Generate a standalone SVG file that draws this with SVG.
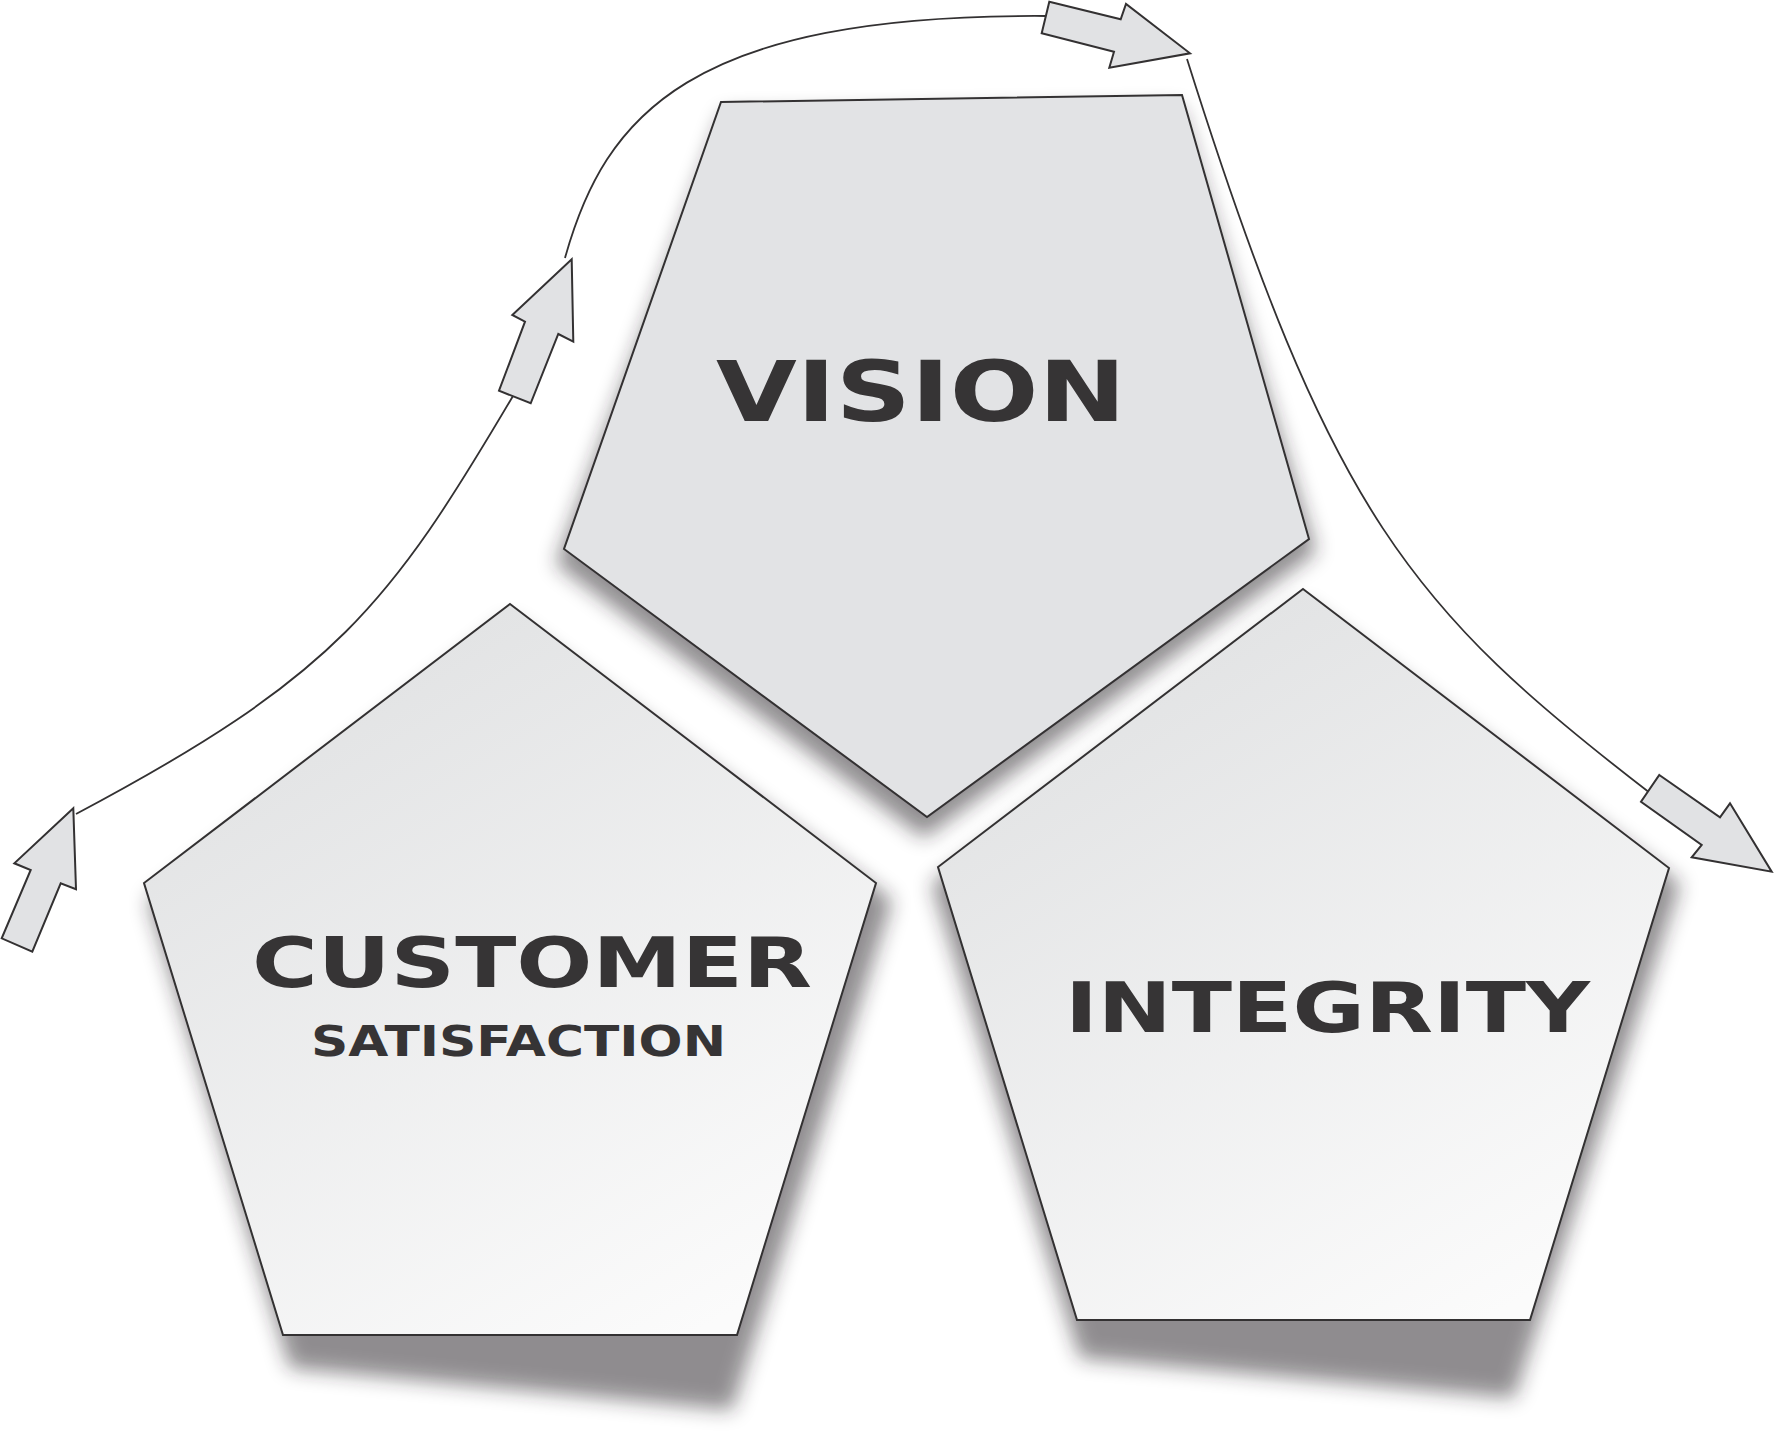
<svg xmlns="http://www.w3.org/2000/svg" width="1774" height="1435" viewBox="0 0 1774 1435">
  <defs>
    <filter id="blur" x="-20%" y="-20%" width="140%" height="140%">
      <feGaussianBlur stdDeviation="10"/>
    </filter>
    <linearGradient id="lightGrad" x1="0.25" y1="0.15" x2="0.75" y2="1">
      <stop offset="0" stop-color="#e3e4e5"/>
      <stop offset="1" stop-color="#fbfbfb"/>
    </linearGradient>
    <style>
      .shadow { fill: #231f20; opacity: 0.5; filter: url(#blur); }
      .pent { stroke: #333132; stroke-width: 2; stroke-linejoin: miter; }
      .label { font-family: "DejaVu Sans", "Liberation Sans", sans-serif; font-weight: bold; fill: #363435; }
      .curve { fill: none; stroke: #333132; stroke-width: 1.8; }
      .arrow { fill: #e1e2e4; stroke: #333132; stroke-width: 2; stroke-linejoin: miter; }
    </style>
  </defs>
  <rect width="1774" height="1435" fill="#ffffff"/>

  <g id="vision">
    <polygon class="shadow" points="724,114 1180,108 1316,552 924,838 556,564"/>
    <polygon class="pent" fill="#e2e3e5" points="721,102 1182,95 1309,539 927,817 564,549"/>
    <text class="label" x="716" y="421" font-size="84" textLength="410" lengthAdjust="spacingAndGlyphs">VISION</text>
  </g>

  <g id="customer">
    <polygon class="shadow" points="510,620 892,900 732,1410 290,1368 148,900"/>
    <polygon class="pent" fill="url(#lightGrad)" points="510,604 876,883 737,1335 283,1335 144,883"/>
    <text class="label" x="252" y="987" font-size="69" textLength="560" lengthAdjust="spacingAndGlyphs">CUSTOMER</text>
    <text class="label" x="311" y="1056" font-size="43" textLength="415" lengthAdjust="spacingAndGlyphs">SATISFACTION</text>
  </g>

  <g id="integrity">
    <polygon class="shadow" points="1303,604 1680,884 1514,1398 1080,1358 932,884"/>
    <polygon class="pent" fill="url(#lightGrad)" points="1303,589 1669,868 1530,1320 1077,1320 938,867"/>
    <text class="label" x="1065" y="1032" font-size="69" textLength="525" lengthAdjust="spacingAndGlyphs">INTEGRITY</text>
  </g>

  <g id="connectors">
    <path class="curve" d="M76,814 C336,676 389,606 513,396"/>
    <path class="curve" d="M565,258 C605,115 690,14 1045,16"/>
    <path class="curve" d="M1187,59 C1331,516 1411,609 1650,793"/>
    <polygon class="arrow" points="73.3,808.3 76,889.3 60.7,883.3 32.3,951.7 1.7,938.3 30.7,870 14.3,863.3"/>
    <polygon class="arrow" points="571.7,259.3 573.3,341.7 558.3,334 530.7,403.3 499,390.7 525,321.7 512.3,315"/>
    <polygon class="arrow" points="1049.3,1.7 1120.7,19.3 1126,4 1190,53.3 1109.3,67.7 1114,51.7 1041.7,33.3"/>
    <polygon class="arrow" points="1659.3,775 1720,817.3 1730,803.3 1771.7,871.7 1691.7,857.3 1701.7,845 1641,801.7"/>
  </g>
</svg>
